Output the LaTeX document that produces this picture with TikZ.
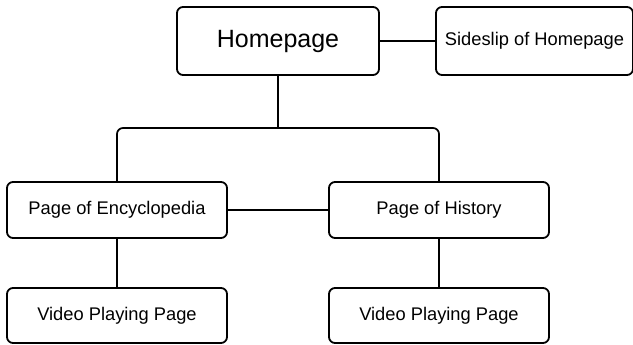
\documentclass[tikz,border=0pt]{standalone}
\usepackage{fontspec}
\setmainfont{Liberation Sans}
\begin{document}
\begin{tikzpicture}[x=1pt,y=-1pt,
  box/.style={draw=black, line width=1.8pt, rounded corners=6pt, fill=white, inner sep=0pt, align=center},
  lbl/.style={font=\fontsize{18.3}{22}\selectfont},
  conn/.style={draw=black, line width=1.7pt}]
\useasboundingbox (0,0) rectangle (633,345);
\node[box, minimum width=202pt, minimum height=68pt, font=\fontsize{25}{30}\selectfont] (home) at (278,41) {Homepage};
\node[box, lbl, minimum width=197pt, minimum height=68pt] (side) at (534.5,41) {Sideslip of Homepage};
\node[box, lbl, minimum width=220pt, minimum height=56pt] (enc) at (117,210) {Page of Encyclopedia};
\node[box, lbl, minimum width=220pt, minimum height=56pt] (hist) at (439,210) {Page of History};
\node[box, lbl, minimum width=220pt, minimum height=55pt] (vl) at (117,315.5) {Video Playing Page};
\node[box, lbl, minimum width=220pt, minimum height=55pt] (vr) at (439,315.5) {Video Playing Page};
\coordinate (bar) at (278,128);
\draw[conn] (home.east) -- (side.west);
\draw[conn] (home.south) -- (bar);
\draw[conn, rounded corners=6pt] (enc.north) |- (bar) -| (hist.north);
\draw[conn] (enc.east) -- (hist.west);
\draw[conn] (enc.south) -- (vl.north);
\draw[conn] (hist.south) -- (vr.north);
\end{tikzpicture}
\end{document}
